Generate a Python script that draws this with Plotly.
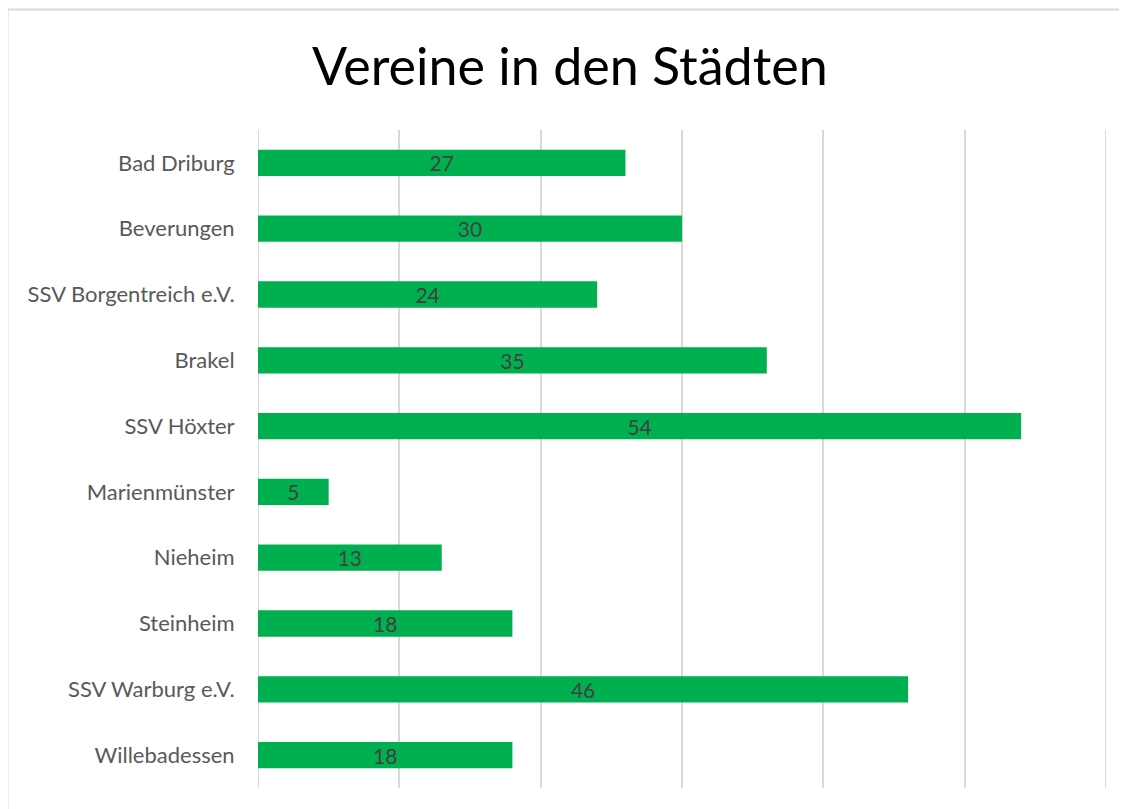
import plotly.graph_objects as go

categories = ["Bad Driburg", "Beverungen", "SSV Borgentreich e.V.", "Brakel", "SSV Höxter",
              "Marienmünster", "Nieheim", "Steinheim", "SSV Warburg e.V.", "Willebadessen"]
# bar lengths as drawn in the picture
values = [26, 30, 24, 36, 54, 5, 13, 18, 46, 18]
# data labels as printed in the picture
value_labels = ["27", "30", "24", "35", "54", "5", "13", "18", "46", "18"]
title_text = "Vereine in den Städten"
x_min, x_max = 0, 60

# page is rendered with an 8px body margin, so figure coords = page coords - 8
OFF = 8
W, H = 1127 - OFF, 809 - OFF
L, R, T, B = 258 - OFF, 1106 - OFF, 130 - OFF, 788 - OFF
PW, PH = R - L, B - T
GRID = "#D9D9D9"

fig = go.Figure(go.Bar(
    y=categories, x=values, orientation="h",
    marker=dict(color="#00B050", line=dict(width=0)),
    text=value_labels, textposition="inside", insidetextanchor="middle",
    textangle=0, constraintext="none",
    textfont=dict(family="Lato, Carlito, sans-serif", size=21, color="#404040"),
    hoverinfo="skip",
))

shapes = [dict(type="rect", xref="paper", yref="paper",
               x0=(7.5 - OFF - L) / PW, x1=1.2, y0=-0.2, y1=1 + (T - (9.5 - OFF)) / PH,
               line=dict(color=GRID, width=2), fillcolor="rgba(0,0,0,0)", layer="below")]
# edge gridlines (plotly skips gridlines at the very ends of the axis range)
for xv in (x_min, x_max):
    shapes.append(dict(type="line", xref="x", yref="paper", x0=xv, x1=xv, y0=0, y1=1,
                       line=dict(color=GRID, width=2), layer="below"))

fig.update_layout(
    width=W, height=H,
    margin=dict(l=L, r=W - R, t=T, b=H - B),
    paper_bgcolor="white", plot_bgcolor="white",
    bargap=0.6,
    showlegend=False,
    font=dict(family="Lato, Carlito, sans-serif"),
    xaxis=dict(range=[x_min, x_max], tick0=0, dtick=10, showgrid=True, gridcolor=GRID, gridwidth=2,
               showticklabels=False, zeroline=False, showline=False, ticks=""),
    yaxis=dict(autorange="reversed", showgrid=False, zeroline=False, showline=False,
               tickfont=dict(size=22, color="#595959"), ticks="outside", ticklen=18,
               tickcolor="rgba(0,0,0,0)"),
    annotations=[dict(text=title_text, xref="paper", yref="paper",
                      x=(570 - OFF - L) / PW, y=1 + (T - (65 - OFF)) / PH,
                      xanchor="center", yanchor="middle", showarrow=False,
                      font=dict(size=52, color="#000000"))],
    shapes=shapes,
)

fig.write_html("out.html")
